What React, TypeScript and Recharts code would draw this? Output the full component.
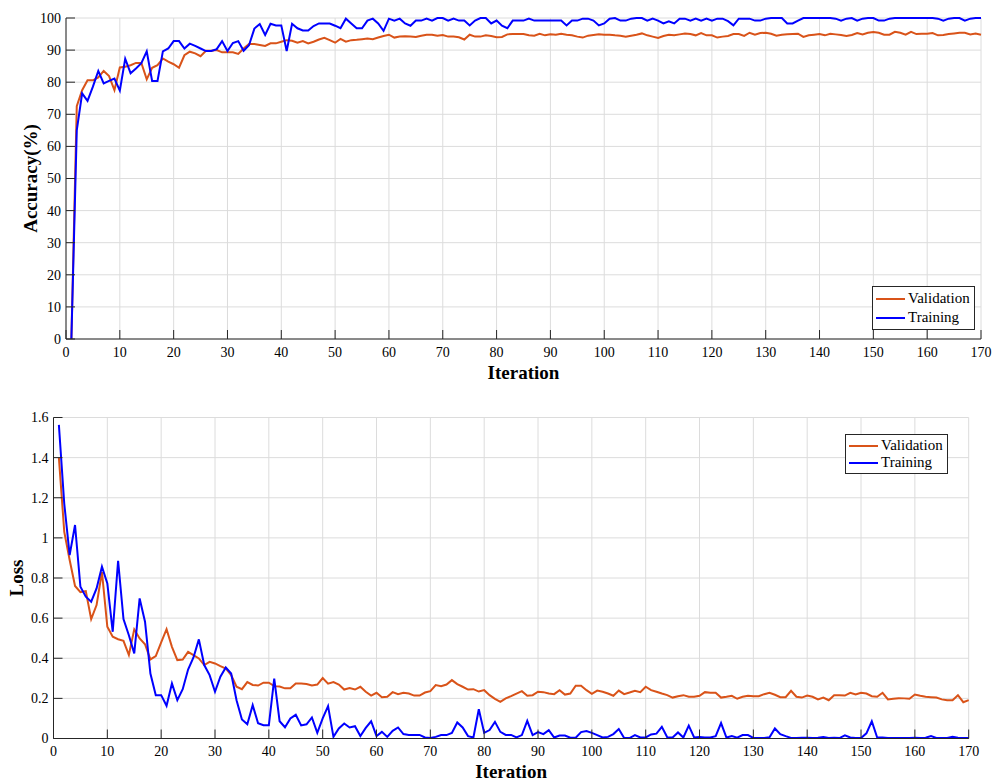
import { LineChart, Line, XAxis, YAxis, CartesianGrid, Legend } from "recharts";

const iterations = Array.from({ length: 170 }, (_, k) => k + 1);
const xTicks = [0, 10, 20, 30, 40, 50, 60, 70, 80, 90, 100, 110, 120, 130, 140, 150, 160, 170];
const accTicks = [0, 10, 20, 30, 40, 50, 60, 70, 80, 90, 100];
const lossTicks = [0, 0.2, 0.4, 0.6, 0.8, 1, 1.2, 1.4, 1.6];

const valAcc = [
  0, 72.5, 77.5, 80.6, 80.6, 81.5, 83.5, 81.9, 77.5, 84.6,
  84.8, 85.3, 86, 86, 80.9, 84.5, 85.3, 87.4, 86.4, 85.6,
  84.5, 88.4, 89.5, 89, 88.1, 89.8, 89.8, 90, 89.3, 89.3,
  89.3, 88.8, 90.5, 91.9, 91.9, 91.6, 91.3, 92.1, 92.1, 92.6,
  93.1, 92.9, 92.3, 92.8, 92.1, 92.6, 93.3, 93.8, 93.1, 92.3,
  93.5, 92.6, 93.1, 93.2, 93.4, 93.6, 93.4, 93.9, 94.4, 94.8,
  93.9, 94.2, 94.3, 94.2, 94.1, 94.5, 94.8, 94.8, 94.5, 94.7,
  94.2, 94.2, 94.0, 93.3, 94.8, 94.2, 94.2, 94.6, 94.4, 94.0,
  94.1, 94.9, 95.0, 95.0, 95.0, 94.6, 94.5, 95.1, 94.6, 94.9,
  94.8, 95.1, 94.8, 94.6, 94.2, 93.9, 94.5, 94.7, 94.9, 94.8,
  94.8, 94.6, 94.5, 94.2, 94.5, 94.8, 95.2, 94.6, 94.2, 93.8,
  94.4, 94.8, 94.6, 94.9, 95.2, 95.0, 94.6, 95.3, 94.6, 94.6,
  93.9, 94.2, 94.4, 95.0, 95.0, 94.4, 95.4, 94.8, 95.3, 95.4,
  95.1, 94.5, 94.8, 94.9, 95.0, 95.1, 94.1, 94.6, 94.8, 95.0,
  94.6, 95.1, 94.9, 94.7, 94.4, 94.7, 95.3, 94.9, 95.4, 95.6,
  95.4, 94.8, 94.8, 95.7, 95.4, 94.8, 95.7, 95.0, 95.1, 95.1,
  95.3, 94.6, 94.7, 95.0, 95.2, 95.4, 95.4, 94.9, 95.2, 94.8,
];

const trainAcc = [
  0, 65, 76.5, 74.2, 78.6, 83.5, 79.6, 80.4, 81.1, 77.4,
  87.3, 82.8, 84.3, 85.9, 89.6, 80.4, 80.4, 89.6, 90.5, 92.8,
  92.8, 90.5, 92.0, 91.3, 90.5, 89.7, 89.7, 90.3, 92.8, 89.7,
  92.2, 92.8, 89.8, 91.5, 96.7, 98.1, 94.7, 98.2, 97.7, 97.7,
  89.7, 98.2, 96.8, 96.1, 96.1, 97.5, 98.3, 98.3, 98.3, 97.6,
  96.8, 99.8, 98.3, 96.8, 96.8, 99.2, 99.8, 98.3, 96.0, 99.8,
  99.2, 99.8, 98.3, 97.6, 99.2, 99.2, 99.8, 99.2, 100, 100,
  99.2, 99.8, 99.2, 99.2, 97.7, 99.2, 100, 100, 98.3, 99.2,
  97.6, 96.8, 99.2, 99.2, 99.2, 99.8, 99.2, 99.2, 99.2, 99.2,
  99.2, 99.2, 97.7, 99.2, 99.2, 99.8, 99.8, 99.2, 97.7, 98.3,
  99.8, 100, 99.2, 99.2, 99.8, 100, 100, 99.2, 99.8, 99.2,
  98.3, 99.0, 98.3, 99.8, 99.8, 99.2, 99.8, 99.2, 99.8, 99.2,
  99.8, 99.8, 99.0, 97.7, 99.8, 99.8, 99.8, 99.2, 99.2, 99.8,
  100, 100, 100, 98.3, 98.3, 99.2, 100, 100, 100, 100,
  100, 100, 99.8, 99.2, 99.8, 100, 99.2, 99.8, 100, 100,
  99.2, 99.2, 99.8, 100, 100, 100, 100, 100, 100, 100,
  100, 99.8, 99.2, 99.8, 100, 100, 99.2, 99.8, 100, 100,
];

const valLoss = [
  1.40, 1.03, 0.89, 0.76, 0.73, 0.735, 0.595, 0.665, 0.83, 0.557,
  0.507, 0.495, 0.487, 0.416, 0.544, 0.499, 0.47, 0.394, 0.411, 0.479,
  0.545, 0.457, 0.391, 0.394, 0.432, 0.416, 0.399, 0.366, 0.382, 0.374,
  0.361, 0.349, 0.316, 0.258, 0.246, 0.281, 0.267, 0.264, 0.278, 0.278,
  0.261, 0.259, 0.25, 0.25, 0.274, 0.274, 0.272, 0.264, 0.269, 0.301,
  0.273, 0.281, 0.269, 0.244, 0.251, 0.244, 0.258, 0.233, 0.214, 0.228,
  0.206, 0.208, 0.231, 0.221, 0.228, 0.224, 0.214, 0.214, 0.229, 0.236,
  0.266, 0.261, 0.269, 0.291, 0.271, 0.258, 0.244, 0.246, 0.234, 0.241,
  0.216, 0.198, 0.183, 0.2, 0.211, 0.224, 0.236, 0.213, 0.216, 0.233,
  0.231, 0.224, 0.221, 0.241, 0.219, 0.224, 0.263, 0.263, 0.241, 0.223,
  0.239, 0.233, 0.224, 0.213, 0.239, 0.221, 0.229, 0.238, 0.231, 0.258,
  0.241, 0.233, 0.224, 0.216, 0.204, 0.211, 0.216, 0.208, 0.208, 0.213,
  0.231, 0.228, 0.228, 0.204, 0.208, 0.213, 0.198, 0.208, 0.213, 0.211,
  0.211, 0.221, 0.228, 0.218, 0.206, 0.206, 0.238, 0.208, 0.204, 0.214,
  0.208, 0.195, 0.204, 0.191, 0.216, 0.216, 0.214, 0.228, 0.219, 0.228,
  0.224, 0.211, 0.208, 0.228, 0.195, 0.198, 0.201, 0.2, 0.198, 0.219,
  0.213, 0.208, 0.206, 0.204, 0.195, 0.191, 0.191, 0.216, 0.181, 0.191,
];

const trainLoss = [
  1.563, 1.17, 0.914, 1.064, 0.756, 0.707, 0.682, 0.748, 0.856, 0.773,
  0.532, 0.886, 0.595, 0.515, 0.424, 0.698, 0.582, 0.324, 0.216, 0.216,
  0.163, 0.274, 0.191, 0.246, 0.344, 0.404, 0.494, 0.366, 0.316, 0.233,
  0.308, 0.354, 0.324, 0.191, 0.095, 0.071, 0.166, 0.076, 0.066, 0.066,
  0.298, 0.086, 0.056, 0.1, 0.118, 0.065, 0.071, 0.105, 0.028, 0.1,
  0.161, 0.008, 0.05, 0.075, 0.055, 0.061, 0.012, 0.053, 0.086, 0.012,
  0.033, 0.008, 0.038, 0.055, 0.022, 0.017, 0.017, 0.018, 0.005, 0.002,
  0.008, 0.017, 0.017, 0.028, 0.08, 0.055, 0.012, 0.005, 0.146, 0.028,
  0.042, 0.083, 0.033, 0.018, 0.018, 0.005, 0.017, 0.088, 0.017, 0.032,
  0.022, 0.042, 0.005, 0.015, 0.015, 0.004, 0.004, 0.032, 0.037, 0.028,
  0.017, 0.005, 0.008, 0.022, 0.047, 0.002, 0.002, 0.017, 0.005, 0.005,
  0.02, 0.024, 0.058, 0.006, 0.005, 0.03, 0.005, 0.064, 0.005, 0.007,
  0.005, 0.005, 0.012, 0.077, 0.005, 0.012, 0.004, 0.017, 0.017, 0.003,
  0.003, 0.003, 0.006, 0.05, 0.022, 0.012, 0.003, 0.003, 0.004, 0.004,
  0.002, 0.004, 0.007, 0.003, 0.004, 0.002, 0.016, 0.005, 0.002, 0.003,
  0.026, 0.086, 0.005, 0.005, 0.003, 0.002, 0.002, 0.003, 0.003, 0.004,
  0.003, 0.004, 0.012, 0.003, 0.003, 0.003, 0.009, 0.004, 0.002, 0.003,
];

const ORANGE = "#D95319";
const BLUE = "#0000FF";
const FONT = '"Times New Roman", "Liberation Serif", serif';
const INK = "#262626";

const accData = iterations.map((it, k) => ({ it, val: valAcc[k], train: trainAcc[k] }));
const lossData = iterations.map((it, k) => ({ it, val: valLoss[k], train: trainLoss[k] }));

const tickStyle = { fontFamily: FONT, fontSize: 14, fill: "#000" };
const titleStyle = { fontFamily: FONT, fontSize: 19, fontWeight: "bold", fill: "#000" };

function LegendBox(props: any) {
  const rows = [
    { name: "Validation", color: ORANGE },
    { name: "Training", color: BLUE },
  ];
  return (
    <div style={{ border: "1px solid " + INK, background: "#fff", padding: "2px 4px 2px 3px", fontFamily: FONT, fontSize: 15, lineHeight: props.rowH + "px" }}>
      {rows.map((r) => (
        <div key={r.name} style={{ display: "flex", alignItems: "center" }}>
          <span style={{ display: "inline-block", width: 29, height: 2, background: r.color, marginRight: 3 }} />
          <span>{r.name}</span>
        </div>
      ))}
    </div>
  );
}

function Panel(props: any) {
  const { data, top, height, marginTop, plotH, yWidth, right, yTicks, yMax, yLabel, yLabelDx, xLabelDy, legendPos, rowH } = props;
  return (
    <div style={{ position: "absolute", left: 0, top }}>
      <LineChart width={999} height={height} data={data} margin={{ top: marginTop, right, left: 0, bottom: 0 }}>
        <CartesianGrid stroke="#dcdcdc" strokeWidth={1} />
        <XAxis
          dataKey="it"
          type="number"
          domain={[0, 170]}
          ticks={xTicks}
          interval={0}
          height={height - marginTop - plotH}
          tick={tickStyle}
          tickSize={-9}
          tickMargin={17}
          axisLine={{ stroke: INK }}
          tickLine={{ stroke: INK }}
          label={{ value: "Iteration", position: "center", dy: xLabelDy, style: titleStyle }}
        />
        <YAxis
          type="number"
          domain={[0, yMax]}
          ticks={yTicks}
          interval={0}
          width={yWidth}
          tick={tickStyle}
          tickSize={-9}
          tickMargin={14}
          axisLine={{ stroke: INK }}
          tickLine={{ stroke: INK }}
          label={{ value: yLabel, angle: -90, position: "center", dx: yLabelDx, style: titleStyle }}
        />
        <Legend
          layout="vertical"
          align="center"
          verticalAlign="middle"
          content={<LegendBox rowH={rowH} />}
          wrapperStyle={{ left: legendPos[0], top: legendPos[1], width: "auto" }}
        />
        <Line type="linear" dataKey="val" name="Validation" stroke={ORANGE} strokeWidth={2} dot={false} isAnimationActive={false} />
        <Line type="linear" dataKey="train" name="Training" stroke={BLUE} strokeWidth={2} dot={false} isAnimationActive={false} />
      </LineChart>
    </div>
  );
}

export default function App() {
  return (
    <div style={{ position: "absolute", left: 0, top: 0, width: 999, height: 782, background: "#fff" }}>
      <Panel
        data={accData}
        top={0}
        height={390}
        marginTop={18}
        plotH={321}
        yWidth={66}
        right={18}
        yTicks={accTicks}
        yMax={100}
        yLabel="Accuracy(%)"
        yLabelDx={-3}
        xLabelDy={8}
        legendPos={[872, 286]}
        rowH={19}
      />
      <Panel
        data={lossData}
        top={390}
        height={392}
        marginTop={27.5}
        plotH={321}
        yWidth={53.5}
        right={30.3}
        yTicks={lossTicks}
        yMax={1.6}
        yLabel="Loss"
        yLabelDx={-10}
        xLabelDy={11}
        legendPos={[845, 44]}
        rowH={17}
      />
    </div>
  );
}
